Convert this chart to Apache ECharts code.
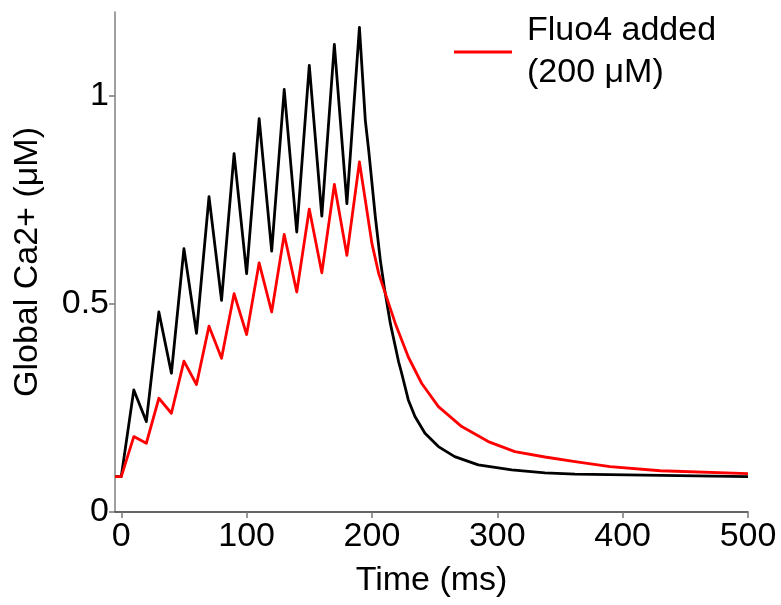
<!DOCTYPE html>
<html>
<head>
<meta charset="utf-8">
<script src="https://cdn.jsdelivr.net/npm/echarts@6/dist/echarts.min.js"></script>
<style>html,body{margin:0;padding:0;background:#fff}#c{width:781px;height:605px}</style>
</head>
<body>
<div id="c"></div>
<script>
// Control (no dye) trace, black
const blackTime = [-5, 0, 10, 20, 30, 40, 50, 60, 70, 80, 90, 100, 110, 120, 130, 140, 150, 160, 170, 180, 190,
  194.7, 197.4, 202.7, 206.7, 210.2, 214.7, 221.3, 223.7, 229, 234.3, 242.3, 253, 266, 284.8, 311.5, 338, 362, 403, 500];
const blackCa = [0.085, 0.085, 0.293, 0.217, 0.480, 0.333, 0.632, 0.429, 0.757, 0.508, 0.860, 0.572, 0.944, 0.626, 1.014, 0.672, 1.072, 0.710, 1.122, 0.740, 1.163,
  0.940, 0.868, 0.708, 0.604, 0.532, 0.452, 0.360, 0.333, 0.269, 0.229, 0.189, 0.157, 0.133, 0.113, 0.101, 0.094, 0.091, 0.089, 0.085];
// Fluo4 added (200 uM), red
const redTime = [-5, 0, 10, 20, 30, 40, 50, 60, 70, 80, 90, 100, 110, 120, 130, 140, 150, 160, 170, 180, 190,
  194.7, 200, 205.4, 210.7, 218.7, 229, 239.6, 253, 271.6, 292.8, 314, 338, 362, 390, 430, 500];
const redCa = [0.085, 0.085, 0.181, 0.165, 0.273, 0.237, 0.362, 0.306, 0.446, 0.369, 0.524, 0.426, 0.598, 0.480, 0.666, 0.528, 0.727, 0.574, 0.786, 0.616, 0.840,
  0.748, 0.644, 0.572, 0.524, 0.452, 0.372, 0.309, 0.253, 0.205, 0.169, 0.145, 0.132, 0.121, 0.109, 0.099, 0.092];
const xTicks = [0, 100, 200, 300, 400, 500];
const yTicks = [0, 0.5, 1];
const legendLabel = 'Fluo4 added\n(200 \u03bcM)';

const pairs = (xs, ys) => xs.map((x, i) => [x, ys[i]]);
const font = '"Liberation Sans", Arial, sans-serif';

const chart = echarts.init(document.getElementById('c'), null, {renderer: 'canvas'});
chart.setOption({
  animation: false,
  backgroundColor: '#fff',
  grid: {left: 115, right: 33, top: 12, bottom: 93, containLabel: false, outerBoundsMode: 'none'},
  legend: {
    data: [{name: legendLabel, icon: 'rect'}],
    left: 449, top: 5,
    itemWidth: 58, itemHeight: 3, itemGap: 0,
    textStyle: {fontFamily: font, fontSize: 34, lineHeight: 42, color: '#000', padding: [0, 0, 0, 10]}
  },
  xAxis: {
    type: 'value', min: -5, max: 500,
    name: 'Time (ms)', nameLocation: 'middle', nameGap: 52,
    nameTextStyle: {fontFamily: font, fontSize: 34, color: '#000'},
    axisLine: {show: true, onZero: false, lineStyle: {color: '#333', width: 1.5}},
    axisTick: {show: true, length: 6, customValues: xTicks, lineStyle: {color: '#777', width: 1.5}},
    axisLabel: {customValues: xTicks, fontFamily: font, fontSize: 34, color: '#000', margin: 8},
    splitLine: {show: false}
  },
  yAxis: {
    type: 'value', min: 0, max: 1.2,
    name: 'Global Ca2+ (\u03bcM)', nameLocation: 'middle', nameGap: 70,
    nameTextStyle: {fontFamily: font, fontSize: 34, color: '#000'},
    axisLine: {show: true, onZero: false, lineStyle: {color: '#808080', width: 1.5}},
    axisTick: {show: true, length: 6, customValues: yTicks, lineStyle: {color: '#777', width: 1.5}},
    axisLabel: {customValues: yTicks, fontFamily: font, fontSize: 34, color: '#000', margin: 6},
    splitLine: {show: false}
  },
  series: [
    {name: 'Control', type: 'line', data: pairs(blackTime, blackCa), showSymbol: false, symbol: 'none',
     lineStyle: {color: '#000', width: 2.8, join: 'round'}, itemStyle: {color: '#000'}},
    {name: legendLabel, type: 'line', data: pairs(redTime, redCa), showSymbol: false, symbol: 'none',
     lineStyle: {color: '#ff0000', width: 2.8, join: 'round'}, itemStyle: {color: '#ff0000'}}
  ]
});
</script>
</body>
</html>
